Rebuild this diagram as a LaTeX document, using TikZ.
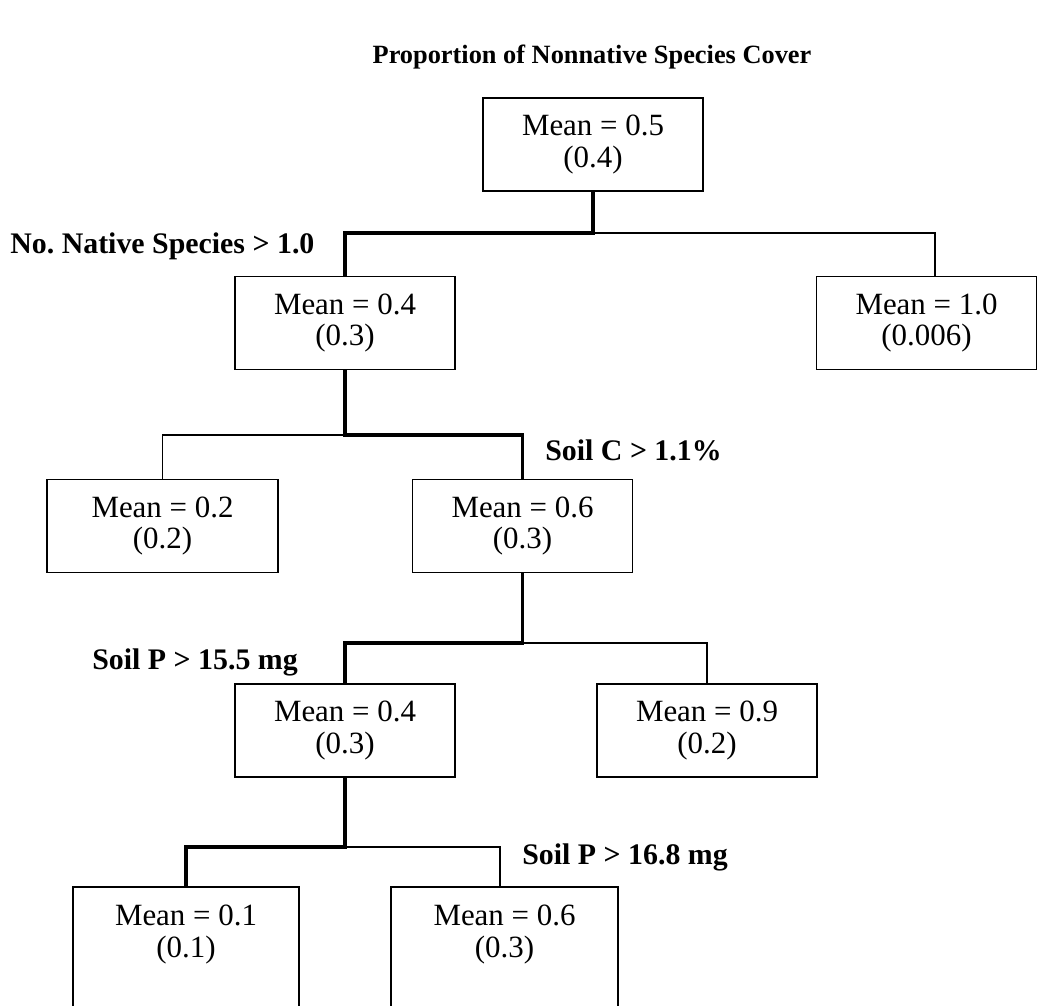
\documentclass[tikz,border=0pt]{standalone}
\usepackage{fontspec}
\setmainfont{Liberation Serif}
\frenchspacing
\tikzset{
	meanbox/.style={draw, line width=1.1pt, minimum width=4.4cm, minimum height=1.86cm, align=center, font=\fontsize{17.6}{18}\selectfont},
	leafbox/.style={meanbox, draw=none},
	split/.style={inner xsep=0pt, font=\bfseries\fontsize{17}{20}\selectfont},
	branch/.style={line width=1.1pt},
	chosen/.style={line width=2.2pt}
}

\begin{document}
\begin{tikzpicture}[x=0.02cm, y=-0.02cm]
		\useasboundingbox (0,0) rectangle (1045,1005);
		\clip (0,0) rectangle (1045,1005);

		\node[font=\bfseries\fontsize{15}{18}\selectfont] (title) at (592,57) {Proportion of Nonnative Species Cover};

		\node[meanbox] (root) at (593,144.5) {Mean = 0.5\\(0.4)};
		\node[meanbox] (natv) at (345,323) {Mean = 0.4\\(0.3)};
		\node[meanbox] (nonat) at (926.5,323) {Mean = 1.0\\(0.006)};
		\node[meanbox, minimum width=4.62cm] (lowc) at (162.5,526) {Mean = 0.2\\(0.2)};
		\node[meanbox] (highc) at (522.5,526) {Mean = 0.6\\(0.3)};
		\node[meanbox] (highp) at (345,730.5) {Mean = 0.4\\(0.3)};
		\node[meanbox] (lowp) at (707,730.5) {Mean = 0.9\\(0.2)};
		\node[leafbox, minimum width=4.48cm] (pa) at (186,934.5) {Mean = 0.1\\(0.1)};
		\node[leafbox, minimum width=4.5cm] (pb) at (504.5,934.5) {Mean = 0.6\\(0.3)};

		\draw[branch] ([yshift=-2cm]pa.south west) |- (pa.north) -| ([yshift=-2cm]pa.south east);
		\draw[branch] ([yshift=-2cm]pb.south west) |- (pb.north) -| ([yshift=-2cm]pb.south east);

		\coordinate (s1) at (593,233);
		\coordinate (s2) at (345,435);
		\coordinate (s3) at (522.5,643);
		\coordinate (s4) at (345,847);

		\draw[chosen]	(root.south) -- (s1) -| (natv.north);
		\draw[branch]	(s1) -| ([xshift=0.17cm]nonat.north);
		\draw[chosen]	(natv.south) -- (s2) -| (highc.north);
		\draw[branch]	(s2) -| (lowc.north);
		\draw[chosen]	(highc.south) -- (s3) -| (highp.north);
		\draw[branch]	(s3) -| (lowp.north);
		\draw[chosen]	(highp.south) -- (s4) -| (pa.north);
		\draw[branch]	(s4) -| ([xshift=-0.09cm]pb.north);

		\node[split, anchor=west] (r1) at (10,246) {No. Native Species > 1.0};
		\node[split, anchor=west] (r2) at (545,450) {Soil C > 1.1\%};
		\node[split, anchor=west] (r3) at (92,662) {Soil P > 15.5 mg};
		\node[split, anchor=west] (r4) at (522,857) {Soil P > 16.8 mg};
	\end{tikzpicture}
\end{document}
